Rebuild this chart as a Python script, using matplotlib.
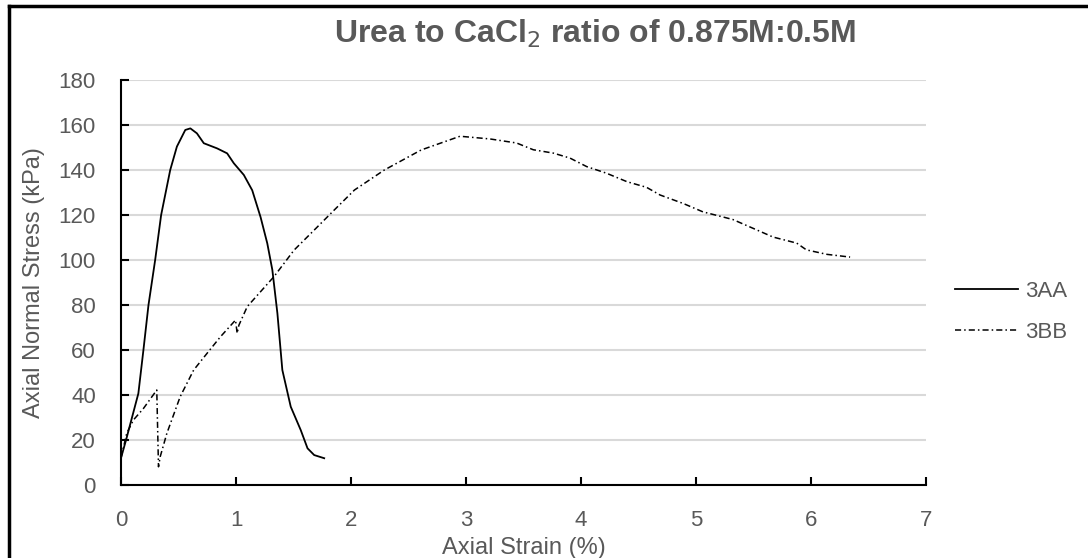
import matplotlib.pyplot as plt
from matplotlib.lines import Line2D

plt.rcParams['font.family'] = ['Liberation Sans', 'DejaVu Sans']

# 3AA sample (solid)
strain_3aa = [0.0, 0.044, 0.151, 0.195, 0.239, 0.297, 0.349, 0.428, 0.486, 0.559, 0.603,
              0.66, 0.72, 0.836, 0.923, 0.981, 1.068, 1.141, 1.214, 1.272, 1.316, 1.36,
              1.403, 1.476, 1.563, 1.622, 1.68, 1.767]
stress_3aa = [12.0, 20.0, 40.7, 60.0, 80.0, 100.0, 120.0, 140.0, 150.4, 157.8, 158.5,
              156.3, 151.9, 149.6, 147.4, 143.0, 137.8, 131.0, 119.0, 107.4, 95.6, 76.3,
              51.1, 34.8, 24.4, 16.3, 13.3, 11.9]

# 3BB sample (dash-dot)
strain_3bb = [0.0, 0.05, 0.108, 0.195, 0.311, 0.326, 0.341, 0.399, 0.515, 0.632, 0.748,
              0.865, 0.996, 1.01, 1.025, 1.098, 1.33, 1.505, 1.68, 1.854, 2.03, 2.29,
              2.61, 2.948, 3.209, 3.44, 3.585, 3.76, 3.904, 4.05, 4.22, 4.40, 4.57,
              4.687, 4.89, 5.06, 5.32, 5.50, 5.67, 5.876, 5.96, 6.14, 6.34]
stress_3bb = [12.0, 23.0, 28.9, 34.0, 42.2, 8.1, 12.6, 23.0, 39.3, 51.1, 58.5,
              65.9, 73.3, 67.4, 71.0, 79.3, 92.6, 104.4, 113.3, 122.2, 131.1, 140.0,
              148.9, 155.0, 153.8, 152.0, 149.0, 147.5, 145.3, 141.5, 138.6, 134.8, 132.3,
              128.9, 125.1, 121.4, 118.0, 114.0, 110.2, 107.5, 104.5, 102.5, 101.3]

x_ticks = [0, 1, 2, 3, 4, 5, 6, 7]
y_ticks = [0, 20, 40, 60, 80, 100, 120, 140, 160, 180]

grey = '#595959'

fig = plt.figure(figsize=(10.88, 5.58), dpi=100)
ax = fig.add_axes([121/1088, 1 - 485/558, (926-121)/1088, (485-80)/558])

ax.plot(strain_3aa, stress_3aa, color='black', lw=1.3, label='3AA')
ax.plot(strain_3bb, stress_3bb, color='black', lw=1.1, linestyle=(0, (4, 2, 1, 2)), label='3BB')

ax.set_xlim(0, 7)
ax.set_ylim(0, 180)
ax.set_xticks(x_ticks)
ax.set_yticks(y_ticks)
ax.grid(axis='y', color='#d9d9d9', lw=1.5)
ax.set_axisbelow(True)
for s in ['top', 'right']:
    ax.spines[s].set_visible(False)
for s in ['left', 'bottom']:
    ax.spines[s].set_linewidth(1.5)
ax.tick_params(direction='in', length=6, width=1.5, labelsize=16, labelcolor=grey, pad=18)

ax.set_xlabel('Axial Strain (%)', fontsize=17, color=grey, labelpad=4)
ax.set_ylabel('Axial Normal Stress (kPa)', fontsize=17, color=grey, labelpad=10)

fig.text(595/1088, 1 - 34/558, r'Urea to CaCl$_2$ ratio of 0.875M:0.5M', ha='center', va='center',
         fontsize=23, fontweight='bold', color=grey)

leg = fig.legend(loc='center left', bbox_to_anchor=(955/1088, 1 - 312/558), frameon=False,
                 fontsize=16, handlelength=2.85, handletextpad=0.3, labelspacing=0.92,
                 borderpad=0, borderaxespad=0)
for t in leg.get_texts():
    t.set_color(grey)

# border of the chart frame (top and left edges visible)
fig.add_artist(Line2D([9/1088, 9/1088], [0, 1 - 6/558], color='black', lw=2.5, transform=fig.transFigure))
fig.add_artist(Line2D([9/1088, 1], [1 - 6/558, 1 - 6/558], color='black', lw=2.5, transform=fig.transFigure))

fig.savefig('out.png', dpi=100)
